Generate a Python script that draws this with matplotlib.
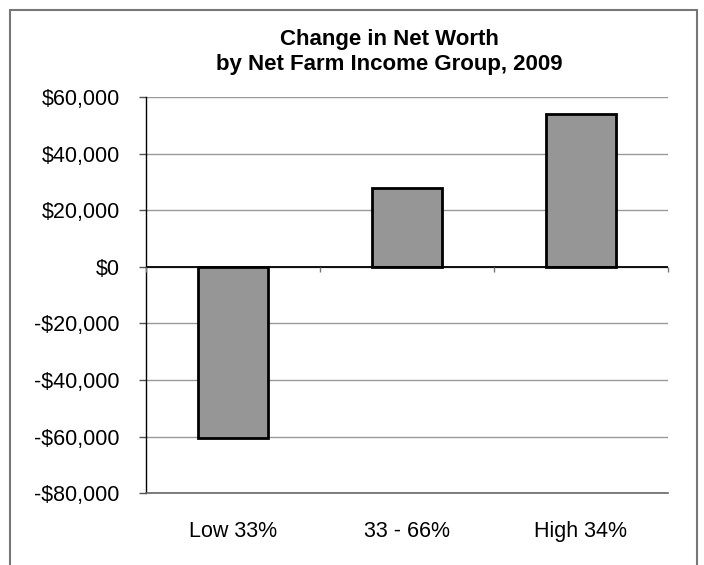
import matplotlib.pyplot as plt
from matplotlib.patches import Rectangle
from matplotlib.ticker import FuncFormatter

plt.rcParams['font.family'] = ['Liberation Sans', 'DejaVu Sans']

categories = ['Low 33%', '33 - 66%', 'High 34%']
values = [-60500, 28000, 54000]
yticks = [-80000, -60000, -40000, -20000, 0, 20000, 40000, 60000]
title = 'Change in Net Worth\nby Net Farm Income Group, 2009'

fig = plt.figure(figsize=(7.04, 5.65), dpi=100)
ax = fig.add_axes([146 / 704, 1 - 493.3 / 565, 522 / 704, 396.3 / 565])

x = range(len(categories))
ax.bar(x, values, width=0.405, color='#969696', edgecolor='black', linewidth=2, zorder=3)

ymin, ymax = yticks[0], yticks[-1]
ax.set_ylim(ymin, ymax)
ax.set_xlim(-0.5, len(categories) - 0.5)
ax.set_yticks(yticks)
ax.yaxis.set_major_formatter(FuncFormatter(lambda v, p: f'-${abs(v):,.0f}' if v < 0 else f'${v:,.0f}'))
ax.tick_params(axis='y', direction='out', length=5, width=1, labelsize=15.5, pad=14, color='#555555')
ax.grid(axis='y', color='#999999', linewidth=1, zorder=0)

ax.set_xticks(list(x))
ax.set_xticklabels(categories)
ax.tick_params(axis='x', length=0, labelsize=15.5, pad=20)

for s in ['top', 'right']:
    ax.spines[s].set_visible(False)
ax.spines['left'].set_color('black')
ax.spines['left'].set_linewidth(1)
ax.spines['bottom'].set_color('#666666')
ax.spines['bottom'].set_linewidth(1.2)

# zero line with category boundary ticks
ax.axhline(0, color='black', linewidth=1.3, zorder=4)
ax.vlines([i - 0.5 for i in range(len(categories) + 1)], 0, -1800, color='#777777', linewidth=1, zorder=4, clip_on=False)

fig.text(389 / 704, 1 - 52 / 565, title, ha='center', va='center', fontsize=16,
         fontweight='bold', linespacing=1.2)

fig.patches.append(Rectangle((10 / 704, -0.05), 687 / 704, 1.05 - 10 / 565, transform=fig.transFigure,
                             fill=False, edgecolor='#777777', linewidth=1.5))

fig.savefig('out.png', dpi=100)
